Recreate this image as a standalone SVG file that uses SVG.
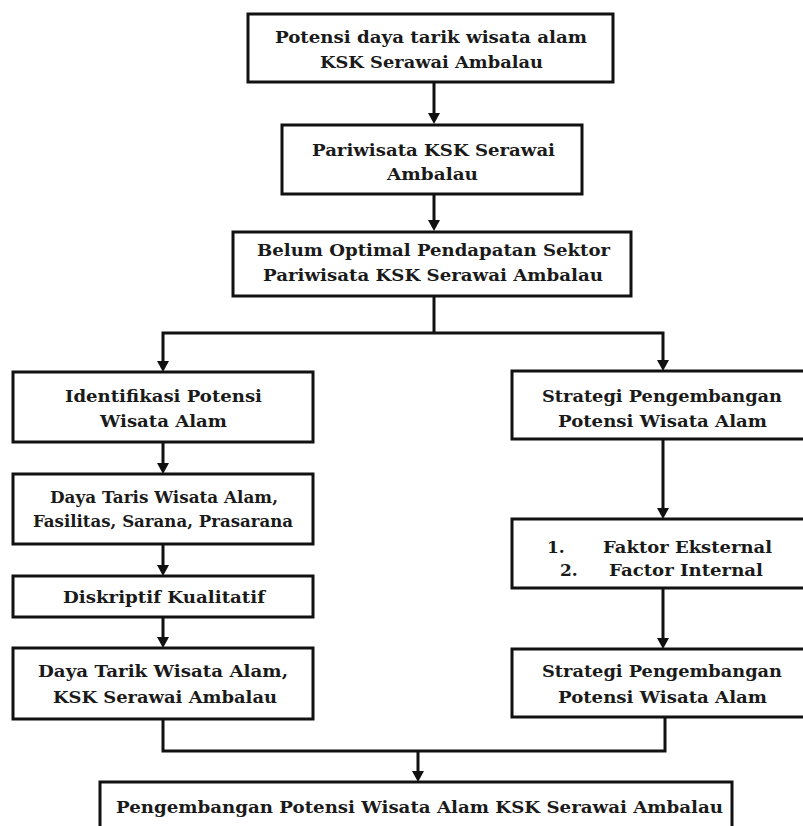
<svg xmlns="http://www.w3.org/2000/svg" width="803" height="826" viewBox="0 0 803 826">
<defs>
<style>
.box{fill:#fff;stroke:#111;stroke-width:3}
.t{font-family:"DejaVu Serif","Liberation Serif",serif;font-weight:bold;font-size:17px;fill:#1a1a1a;text-anchor:middle}
.s{text-anchor:start}
.c{fill:none;stroke:#111;stroke-width:3}
.h{fill:#111}
</style>
</defs>
<rect width="803" height="826" fill="#fff"/>
<g id="connectors">
<line class="c" x1="434" y1="82" x2="434" y2="114"/>
<path class="h" d="M428,113 L440,113 L434,124 Z"/>
<line class="c" x1="434" y1="194" x2="434" y2="221"/>
<path class="h" d="M428,220 L440,220 L434,231 Z"/>
<polyline class="c" points="434,296 434,333"/>
<polyline class="c" points="163,362 163,333 663,333 663,361"/>
<path class="h" d="M157,361 L169,361 L163,372 Z"/>
<path class="h" d="M657,360 L669,360 L663,371 Z"/>
<line class="c" x1="163" y1="442" x2="163" y2="464"/>
<path class="h" d="M157,463 L169,463 L163,474 Z"/>
<line class="c" x1="163" y1="544" x2="163" y2="566"/>
<path class="h" d="M157,565 L169,565 L163,576 Z"/>
<line class="c" x1="163" y1="617" x2="163" y2="638"/>
<path class="h" d="M157,637 L169,637 L163,648 Z"/>
<line class="c" x1="663" y1="439" x2="663" y2="509"/>
<path class="h" d="M657,508 L669,508 L663,519 Z"/>
<line class="c" x1="663" y1="588" x2="663" y2="639"/>
<path class="h" d="M657,638 L669,638 L663,649 Z"/>
<polyline class="c" points="163,719 163,751 665,751 665,717"/>
<line class="c" x1="418" y1="751" x2="418" y2="772"/>
<path class="h" d="M412,771 L424,771 L418,782 Z"/>
</g>
<g id="n1">
<rect class="box" x="248" y="14" width="365" height="68"/>
<text class="t" x="431" y="43" textLength="312" lengthAdjust="spacingAndGlyphs">Potensi daya tarik wisata alam</text>
<text class="t" x="431.5" y="68" textLength="223" lengthAdjust="spacingAndGlyphs">KSK Serawai Ambalau</text>
</g>
<g id="n2">
<rect class="box" x="282" y="125" width="300" height="69"/>
<text class="t" x="433.5" y="156" textLength="243" lengthAdjust="spacingAndGlyphs">Pariwisata KSK Serawai</text>
<text class="t" x="432.5" y="180" textLength="91" lengthAdjust="spacingAndGlyphs">Ambalau</text>
</g>
<g id="n3">
<rect class="box" x="233" y="232" width="398" height="64"/>
<text class="t" x="433.5" y="256" textLength="353" lengthAdjust="spacingAndGlyphs">Belum Optimal Pendapatan Sektor</text>
<text class="t" x="433" y="281" textLength="340" lengthAdjust="spacingAndGlyphs">Pariwisata KSK Serawai Ambalau</text>
</g>
<g id="l1">
<rect class="box" x="13" y="372" width="300" height="70"/>
<text class="t" x="163.5" y="402" textLength="197" lengthAdjust="spacingAndGlyphs">Identifikasi Potensi</text>
<text class="t" x="163.5" y="427" textLength="127" lengthAdjust="spacingAndGlyphs">Wisata Alam</text>
</g>
<g id="l2">
<rect class="box" x="13" y="474" width="300" height="70"/>
<text class="t" x="164" y="503" textLength="228" lengthAdjust="spacingAndGlyphs">Daya Taris Wisata Alam,</text>
<text class="t" x="163" y="527" textLength="260" lengthAdjust="spacingAndGlyphs">Fasilitas, Sarana, Prasarana</text>
</g>
<g id="l3">
<rect class="box" x="13" y="576" width="300" height="41"/>
<text class="t" x="164" y="603" textLength="202" lengthAdjust="spacingAndGlyphs">Diskriptif Kualitatif</text>
</g>
<g id="l4">
<rect class="box" x="13" y="648" width="300" height="71"/>
<text class="t" x="163" y="677" textLength="250" lengthAdjust="spacingAndGlyphs">Daya Tarik Wisata Alam,</text>
<text class="t" x="165" y="703" textLength="224" lengthAdjust="spacingAndGlyphs">KSK Serawai Ambalau</text>
</g>
<g id="r1">
<rect class="box" x="512" y="371" width="302" height="68"/>
<text class="t" x="662" y="402" textLength="240" lengthAdjust="spacingAndGlyphs">Strategi Pengembangan</text>
<text class="t" x="662.5" y="427" textLength="209" lengthAdjust="spacingAndGlyphs">Potensi Wisata Alam</text>
</g>
<g id="r2">
<rect class="box" x="512" y="519" width="302" height="69"/>
<text class="t s" x="547" y="553">1.</text>
<text class="t s" x="603" y="553" textLength="169" lengthAdjust="spacingAndGlyphs">Faktor Eksternal</text>
<text class="t s" x="560" y="576">2.</text>
<text class="t s" x="609" y="576" textLength="154" lengthAdjust="spacingAndGlyphs">Factor Internal</text>
</g>
<g id="r3">
<rect class="box" x="512" y="649" width="302" height="68"/>
<text class="t" x="662" y="677" textLength="240" lengthAdjust="spacingAndGlyphs">Strategi Pengembangan</text>
<text class="t" x="662.5" y="703" textLength="209" lengthAdjust="spacingAndGlyphs">Potensi Wisata Alam</text>
</g>
<g id="b1">
<rect class="box" x="100" y="782" width="632" height="60"/>
<text class="t" x="419.5" y="813" textLength="607" lengthAdjust="spacingAndGlyphs">Pengembangan Potensi Wisata Alam KSK Serawai Ambalau</text>
</g>
</svg>
